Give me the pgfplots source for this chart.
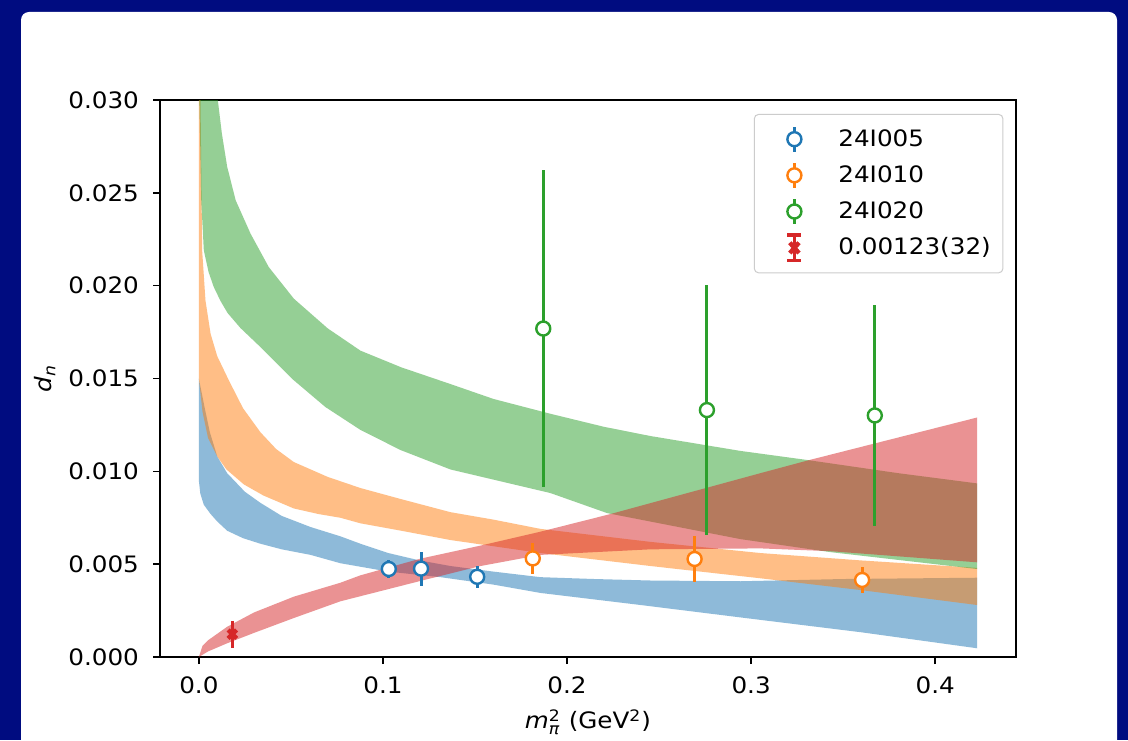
\documentclass[border=0pt]{standalone}
\usepackage{fontspec}
\setmainfont{DejaVu Sans}[FakeStretch=1.09]
\usepackage{amsmath}
\usepackage{pgfplots}
\pgfplotsset{compat=1.18}
\definecolor{c1}{HTML}{1F77B4}
\definecolor{c2}{HTML}{FF7F0E}
\definecolor{c3}{HTML}{2CA02C}
\definecolor{c4}{HTML}{D62728}
\definecolor{navy}{RGB}{0,12,128}
\newcommand\tfont{\fontsize{11.3pt}{13.5pt}\selectfont}
\begin{document}
\begin{tikzpicture}
\fill[navy] (0,0) rectangle (564pt,370pt);
\fill[white] (10.5pt,0pt) {[rounded corners=4pt] -- (10.5pt,364pt) -- (558.5pt,364pt)} -- (558.5pt,0pt) -- cycle;
\begin{axis}[
  at={(80pt,41.5pt)}, anchor=south west,
  scale only axis, width=428pt, height=278.5pt,
  xmin=-0.0211, xmax=0.4439, ymin=0, ymax=0.030,
  xtick={0,0.1,0.2,0.3,0.4},
  ytick={0,0.005,0.010,0.015,0.020,0.025,0.030},
  scaled x ticks=false, scaled y ticks=false,
  xticklabel style={yshift=-3pt, /pgf/number format/.cd, fixed, fixed zerofill, precision=1, assume math mode=true},
  yticklabel style={xshift=-3.5pt, /pgf/number format/.cd, fixed, fixed zerofill, precision=3, assume math mode=true},
  tick label style={font=\tfont},
  tick align=outside, tick pos=left,
  major tick length=3.5pt,
  every tick/.style={black, line width=0.8pt},
  axis line style={black, line width=0.8pt},
  xlabel={\textit{m}$^{\text{2}}_{\textit{π}}$ (GeV$^{\text{2}}$)},
  xlabel style={at={(axis description cs:0.5,-0.1167)}, anchor=center, font=\tfont},
  ylabel={$\textit{d}_{\textit{n}}$},
  ylabel style={at={(axis description cs:-0.1343,0.5)}, anchor=center, font=\tfont},
  legend cell align=left,
  legend style={at={(axis description cs:0.9852,0.9749)}, anchor=north east,
    draw=black!20, rounded corners=2pt, line width=0.5pt, font=\tfont,
    inner xsep=4pt, inner ysep=5.4pt, row sep=4.2pt,
    nodes={inner sep=2pt, text depth=0.15em}},
]
% blue band: upper edge left to right, then lower edge right to left
\addplot[fill=c1, fill opacity=0.5, draw=none, forget plot] coordinates {
(0,0.0150) (0.003,0.0135) (0.006,0.0121) (0.010,0.0108) (0.0154,0.0099) (0.025,0.0089) (0.0335,0.0083) (0.045,0.0076) (0.0607,0.0070) (0.0769,0.0065) (0.0878,0.0061) (0.1029,0.0056) (0.12,0.0052) (0.1367,0.0049) (0.16,0.0046) (0.1856,0.0043) (0.215,0.0042) (0.2454,0.00412) (0.2942,0.00408) (0.35,0.0042) (0.4228,0.00427)
(0.4228,0.00047) (0.36,0.00133) (0.305,0.0020) (0.24,0.0028) (0.1856,0.00345) (0.16,0.0039) (0.1313,0.0043) (0.1029,0.0046) (0.0769,0.00505) (0.0607,0.0055) (0.045,0.0058) (0.0335,0.0061) (0.024,0.0064) (0.0154,0.0068) (0.010,0.0073) (0.0064,0.0077) (0.0027,0.0082) (0.0008,0.0088) (0,0.0095)} -- cycle;
% orange band
\addplot[fill=c2, fill opacity=0.5, draw=none, forget plot] coordinates {
(0,0.06) (0.0009,0.030) (0.0018,0.0219) (0.0036,0.0192) (0.0064,0.0174) (0.010,0.0162) (0.0163,0.0149) (0.024,0.0134) (0.0335,0.0121) (0.042,0.0112) (0.0516,0.0105) (0.07,0.0097) (0.0878,0.0091) (0.11,0.0085) (0.1367,0.0078) (0.16,0.0074) (0.1856,0.0069) (0.2454,0.0062) (0.305,0.0056) (0.36,0.0052) (0.4228,0.0048)
(0.4228,0.0028) (0.36,0.0036) (0.305,0.00424) (0.2454,0.0049) (0.1856,0.0056) (0.1367,0.0063) (0.11,0.0068) (0.0878,0.0072) (0.0769,0.0075) (0.065,0.0077) (0.0516,0.0080) (0.035,0.0087) (0.0244,0.0093) (0.015,0.0101) (0.010,0.0108) (0.005,0.0118) (0.002,0.0132) (0,0.0150)} -- cycle;
% green band
\addplot[fill=c3, fill opacity=0.5, draw=none, forget plot] coordinates {
(0,0.06) (0.004,0.042) (0.007,0.034) (0.0103,0.0300) (0.0125,0.0282) (0.0154,0.0264) (0.020,0.0246) (0.0281,0.0228) (0.038,0.0210) (0.0516,0.0193) (0.07,0.0177) (0.0878,0.0165) (0.11,0.0156) (0.1367,0.0147) (0.16,0.0139) (0.191,0.0131) (0.22,0.0124) (0.2454,0.0119) (0.2942,0.0111) (0.3313,0.0106) (0.38,0.0099) (0.4228,0.00935)
(0.4228,0.00474) (0.343,0.00565) (0.2942,0.00635) (0.2218,0.00775) (0.191,0.00883) (0.1367,0.0101) (0.1095,0.01115) (0.0878,0.01223) (0.0688,0.01346) (0.0514,0.01492) (0.0335,0.01669) (0.0226,0.01772) (0.0156,0.01853) (0.0118,0.01917) (0.0081,0.01993) (0.0053,0.02073) (0.0027,0.0219) (0.0013,0.0246) (0.0003,0.030) (0,0.06)} -- cycle;
% red band
\addplot[fill=c4, fill opacity=0.5, draw=none, forget plot] coordinates {
(0,0) (0.002,0.0006) (0.005,0.0009) (0.0154,0.00163) (0.03,0.0024) (0.0516,0.00325) (0.0769,0.0040) (0.0878,0.0044) (0.1205,0.0053) (0.153,0.0060) (0.1856,0.00675) (0.2236,0.0077) (0.305,0.0099) (0.3313,0.0106) (0.4228,0.0129)
(0.4228,0.0051) (0.343,0.0057) (0.305,0.00585) (0.2454,0.0058) (0.1856,0.0055) (0.153,0.0049) (0.1367,0.0045) (0.1205,0.0041) (0.0769,0.0030) (0.0516,0.0021) (0.03,0.0013) (0.0154,0.00074) (0.005,0.0003) (0,0)} -- cycle;
% data points
\addplot[c1, only marks, mark=*, mark size=3.5pt, mark options={fill=white, line width=1.2pt}, forget plot,
  error bars/.cd, y dir=both, y explicit, error mark=none, error bar style={line width=1.5pt}]
  table[x=x, y=y, y error=e] {
x y e
0.1032 0.00474 0.00047
0.1207 0.00476 0.00091
0.1512 0.00432 0.00058
};
\addplot[c2, only marks, mark=*, mark size=3.5pt, mark options={fill=white, line width=1.2pt}, forget plot,
  error bars/.cd, y dir=both, y explicit, error mark=none, error bar style={line width=1.5pt}]
  table[x=x, y=y, y error=e] {
x y e
0.1814 0.00531 0.00082
0.2693 0.00528 0.00125
0.3603 0.00415 0.00072
};
\addplot[c3, only marks, mark=*, mark size=3.5pt, mark options={fill=white, line width=1.2pt}, forget plot,
  error bars/.cd, y dir=both, y explicit, error mark=none, error bar style={line width=1.5pt}]
  table[x=x, y=y, y error=e] {
x y e
0.1871 0.01769 0.00853
0.2760 0.01330 0.00673
0.3672 0.01301 0.00594
};
\addplot[c4, only marks, mark=x, mark size=3pt, mark options={line width=2.2pt}, forget plot,
  error bars/.cd, y dir=both, y explicit, error mark=-, error mark options={line width=1.6pt, mark size=3.7pt}, error bar style={line width=1.5pt}]
  table[x=x, y=y, y error=e] {
x y e
0.0182 0.00123 0.00032
};
% legend
\addlegendimage{legend image code/.code={
  \path[draw=none,fill=none] (0pt,-6pt) rectangle (36pt,6pt);
  \draw[overlay,c1,line width=1.4pt,sharp corners] (16pt,-6.2pt)--(16pt,6.2pt);
  \draw[overlay,c1,line width=1.2pt,fill=white] (16pt,0pt) circle (3.5pt);}}
\addlegendentry{24I005}
\addlegendimage{legend image code/.code={
  \path[draw=none,fill=none] (0pt,-6pt) rectangle (36pt,6pt);
  \draw[overlay,c2,line width=1.4pt,sharp corners] (16pt,-6.2pt)--(16pt,6.2pt);
  \draw[overlay,c2,line width=1.2pt,fill=white] (16pt,0pt) circle (3.5pt);}}
\addlegendentry{24I010}
\addlegendimage{legend image code/.code={
  \path[draw=none,fill=none] (0pt,-6pt) rectangle (36pt,6pt);
  \draw[overlay,c3,line width=1.4pt,sharp corners] (16pt,-6.2pt)--(16pt,6.2pt);
  \draw[overlay,c3,line width=1.2pt,fill=white] (16pt,0pt) circle (3.5pt);}}
\addlegendentry{24I020}
\addlegendimage{legend image code/.code={
  \path[draw=none,fill=none] (0pt,-6pt) rectangle (36pt,6pt);
  \draw[overlay,c4,line width=1.4pt,sharp corners] (16pt,-6.4pt)--(16pt,6.4pt);
  \draw[overlay,c4,line width=1.6pt,sharp corners] (12.5pt,-6.4pt)--(19.5pt,-6.4pt) (12.5pt,6.4pt)--(19.5pt,6.4pt);
  \draw[overlay,c4,line width=2.2pt,sharp corners] (13.7pt,-2.6pt)--(18.3pt,2.6pt) (13.7pt,2.6pt)--(18.3pt,-2.6pt);}}
\addlegendentry{0.00123(32)}
\end{axis}
\pgfresetboundingbox
\path[use as bounding box] (0,0) rectangle (564pt,370pt);
\end{tikzpicture}
\end{document}
